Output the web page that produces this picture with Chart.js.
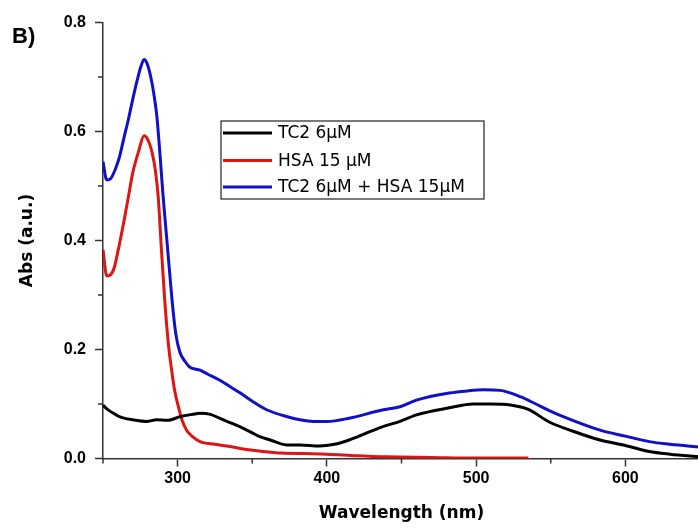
<!DOCTYPE html>
<html>
<head>
<meta charset="utf-8">
<script src="https://cdn.jsdelivr.net/npm/chart.js@4.4.1/dist/chart.umd.min.js"></script>
<style>
  html, body { margin: 0; padding: 0; background: #fff; overflow: hidden; }
  #wrap { position: relative; width: 702px; height: 530px; }
</style>
</head>
<body>
<div id="wrap"><canvas id="grafico" width="702" height="530"></canvas></div>
<script>
// TC2 6uM
const tc2Nm  = [250, 253, 257, 260, 264, 270, 279, 286, 293, 302, 310, 315, 322, 328, 335, 342, 350, 355, 362, 373, 382, 395, 405, 415, 426, 437, 449, 460, 482, 498, 510, 523, 535, 549, 565, 583, 600, 616, 630, 650];
const tc2Abs = [0.098, 0.090, 0.083, 0.078, 0.074, 0.071, 0.068, 0.071, 0.070, 0.077, 0.081, 0.083, 0.081, 0.074, 0.066, 0.058, 0.047, 0.040, 0.034, 0.025, 0.025, 0.023, 0.026, 0.034, 0.046, 0.058, 0.068, 0.080, 0.093, 0.100, 0.100, 0.098, 0.090, 0.067, 0.050, 0.034, 0.024, 0.013, 0.008, 0.003];

// HSA 15uM
const hsaNm  = [250, 252.5, 255, 257.5, 260, 264, 267, 270, 274, 277.5, 280, 283, 285, 287, 289, 291.5, 294, 296, 298, 300.5, 303, 306, 310, 315, 325, 335, 345, 357, 370, 385, 400, 420, 440, 470, 500, 535];
const hsaAbs = [0.383, 0.335, 0.337, 0.350, 0.380, 0.435, 0.480, 0.525, 0.565, 0.592, 0.585, 0.560, 0.530, 0.480, 0.390, 0.285, 0.205, 0.162, 0.125, 0.095, 0.070, 0.052, 0.040, 0.031, 0.026, 0.022, 0.017, 0.013, 0.010, 0.009, 0.008, 0.005, 0.003, 0.002, 0.001, 0.001];

// TC2 6uM + HSA 15uM
const mixNm  = [250, 252.5, 255, 258, 261, 264, 267, 270, 273, 275.5, 277.5, 279.5, 282, 284, 286, 288, 290, 292.5, 295, 297, 299, 301.5, 305, 308, 315, 320, 328, 335, 342, 350, 360, 373, 382, 391, 400, 415, 437, 449, 460, 482, 494, 505, 516, 530, 540, 549, 560, 583, 600, 616, 630, 650];
const mixAbs = [0.545, 0.511, 0.513, 0.529, 0.553, 0.588, 0.622, 0.660, 0.695, 0.720, 0.732, 0.725, 0.700, 0.670, 0.630, 0.565, 0.490, 0.410, 0.330, 0.270, 0.225, 0.195, 0.178, 0.168, 0.162, 0.155, 0.144, 0.132, 0.120, 0.105, 0.089, 0.077, 0.071, 0.068, 0.068, 0.074, 0.089, 0.095, 0.107, 0.120, 0.124, 0.126, 0.125, 0.113, 0.100, 0.088, 0.075, 0.052, 0.041, 0.031, 0.026, 0.021];

const rotulos = ['TC2 6\u00b5M', 'HSA 15 \u00b5M', 'TC2 6\u00b5M + HSA 15\u00b5M'];
const cores = ['#000000', '#dd1515', '#1010c8'];

const corEixo = '#333333';
const fonteTicks = { family: '"Liberation Sans", Arial, sans-serif', size: 16, weight: 'bold' };
const fonteTitulo = { family: '"DejaVu Sans", sans-serif', size: 17, weight: 'bold' };

const pares = (xs, ys) => xs.map((x, i) => ({ x: x, y: ys[i] }));

const xMaior = v => Math.round(v) % 100 === 0;
const yMaior = v => Math.round(v * 10) % 2 === 0;

// short minor ticks, drawn from the scale's own ticks
const ticksMenores = {
    id: 'ticksMenores',
    afterDraw(chart) {
        const c = chart.ctx;
        const sx = chart.scales.x, sy = chart.scales.y;
        c.save();
        c.strokeStyle = corEixo;
        c.lineWidth = 1.5;
        c.beginPath();
        sx.ticks.forEach(t => {
            if (xMaior(t.value)) return;
            const px = sx.getPixelForValue(t.value);
            c.moveTo(px, sx.top);
            c.lineTo(px, sx.top + 5);
        });
        sy.ticks.forEach(t => {
            if (yMaior(t.value)) return;
            const py = sy.getPixelForValue(t.value);
            c.moveTo(sy.right, py);
            c.lineTo(sy.right - 5, py);
        });
        c.stroke();

        // panel letter
        c.fillStyle = '#000';
        c.font = 'bold 22px "Liberation Sans", Arial, sans-serif';
        c.textBaseline = 'alphabetic';
        c.fillText('B)', 12, 43);
        c.restore();
    }
};

// legend box inside the plot
const legendaCaixa = {
    id: 'legendaCaixa',
    afterDraw(chart) {
        const c = chart.ctx;
        const caixa = { x: 221, y: 121, w: 263, h: 78 };
        const linhasY = [133, 160.5, 187];
        c.save();
        c.fillStyle = '#fff';
        c.fillRect(caixa.x, caixa.y, caixa.w, caixa.h);
        c.strokeStyle = '#222';
        c.lineWidth = 1.2;
        c.strokeRect(caixa.x, caixa.y, caixa.w, caixa.h);
        c.font = '17px "DejaVu Sans", sans-serif';
        c.textBaseline = 'middle';
        chart.data.datasets.forEach((ds, i) => {
            c.strokeStyle = ds.borderColor;
            c.lineWidth = 3;
            c.beginPath();
            c.moveTo(223, linhasY[i]);
            c.lineTo(272, linhasY[i]);
            c.stroke();
            c.fillStyle = '#000';
            c.fillText(ds.label, 278, linhasY[i] + 1);
        });
        c.restore();
    }
};

const ctx = document.getElementById('grafico').getContext('2d');
new Chart(ctx, {
    type: 'line',
    data: {
        datasets: [
            { label: rotulos[0], data: pares(tc2Nm, tc2Abs), borderColor: cores[0] },
            { label: rotulos[1], data: pares(hsaNm, hsaAbs), borderColor: cores[1] },
            { label: rotulos[2], data: pares(mixNm, mixAbs), borderColor: cores[2] }
        ]
    },
    options: {
        responsive: false,
        animation: false,
        devicePixelRatio: 1,
        layout: {
            padding: { top: 22.5, right: 2, bottom: 0, left: 0 }
        },
        elements: {
            line: { borderWidth: 3, cubicInterpolationMode: 'monotone', fill: false },
            point: { radius: 0 }
        },
        scales: {
            x: {
                type: 'linear',
                min: 250,
                max: 650,
                afterFit: s => { s.height = 71.5; },
                ticks: {
                    stepSize: 50,
                    autoSkip: false,
                    maxRotation: 0,
                    color: '#000',
                    font: fonteTicks,
                    padding: 2,
                    callback: v => (xMaior(v) && v > 250 && v < 650) ? String(v) : ''
                },
                grid: {
                    drawOnChartArea: false,
                    drawTicks: true,
                    tickLength: 8,
                    tickWidth: 1.5,
                    tickColor: c => (c.tick && xMaior(c.tick.value)) ? corEixo : 'rgba(0,0,0,0)'
                },
                border: { display: true, color: corEixo, width: 1.5 },
                title: {
                    display: true,
                    text: 'Wavelength (nm)',
                    color: '#000',
                    font: fonteTitulo,
                    padding: { top: 0, bottom: 6 }
                }
            },
            y: {
                min: 0,
                max: 0.8,
                afterFit: s => { s.width = 103; },
                ticks: {
                    stepSize: 0.1,
                    autoSkip: false,
                    color: '#000',
                    font: fonteTicks,
                    padding: 9,
                    callback: v => yMaior(v) ? v.toFixed(1) : ''
                },
                grid: {
                    drawOnChartArea: false,
                    drawTicks: true,
                    tickLength: 8,
                    tickWidth: 1.5,
                    tickColor: c => (c.tick && yMaior(c.tick.value)) ? corEixo : 'rgba(0,0,0,0)'
                },
                border: { display: true, color: corEixo, width: 1.5 },
                title: {
                    display: true,
                    text: 'Abs (a.u.)',
                    color: '#000',
                    font: fonteTitulo,
                    padding: { top: 17, bottom: 0 }
                }
            }
        },
        plugins: {
            legend: { display: false },
            tooltip: { enabled: false }
        }
    },
    plugins: [ticksMenores, legendaCaixa]
});
</script>
</body>
</html>
